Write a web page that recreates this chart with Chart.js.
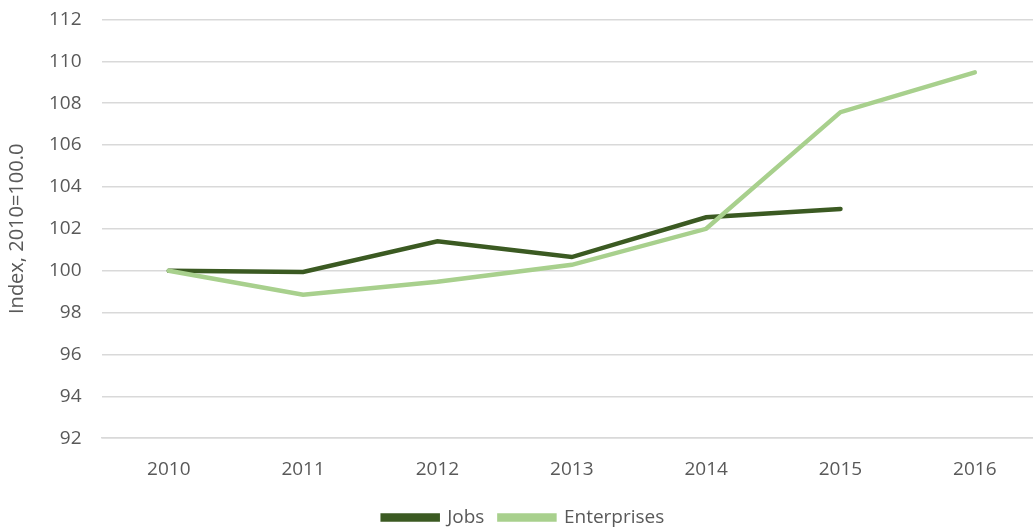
<!DOCTYPE html>
<html>
<head>
<meta charset="utf-8">
<script src="https://cdn.jsdelivr.net/npm/chart.js@4"></script>
<style>
    body { margin: 0; background: #fff; }
    #wrap { width: 1033px; height: 530px; position: relative; overflow: hidden; }
    #inner { position: absolute; left: 0; top: -12px; width: 1042px; height: 542px; }
</style>
</head>
<body>
<div id="wrap"><div id="inner"><canvas id="myChart"></canvas></div></div>
<script>
const anos = ['2010', '2011', '2012', '2013', '2014', '2015', '2016'];
const jobs = [100.0, 99.94, 101.4, 100.65, 102.55, 102.95, null];
const enterprises = [100.0, 98.85, 99.47, 100.28, 102.0, 107.57, 109.47];

const corJobs = '#3b5a22';
const corEnterprises = '#a8d08d';
const corTexto = '#595959';
const fonte = "'Open Sans', 'Liberation Sans', sans-serif";

const canvasChart = document.getElementById('myChart');

new Chart(canvasChart, {
    type: 'line',
    data: {
        labels: anos,
        datasets: [{
                label: 'Jobs',
                data: jobs,
                borderColor: corJobs,
                backgroundColor: corJobs,
                borderWidth: 4.5,
                pointRadius: 0,
                order: 1
            },
            {
                label: 'Enterprises',
                data: enterprises,
                borderColor: corEnterprises,
                backgroundColor: corEnterprises,
                borderWidth: 4.5,
                pointRadius: 0,
                order: 0
            }
        ]
    },
    options: {
        responsive: true,
        maintainAspectRatio: false,
        animation: false,
        layout: {
            padding: { top: 0, right: 0, bottom: -7, left: 5 }
        },
        elements: {
            line: { borderCapStyle: 'round', borderJoinStyle: 'miter', tension: 0 }
        },
        plugins: {
            legend: {
                position: 'bottom',
                labels: {
                    color: corTexto,
                    font: { family: fonte, size: 19 },
                    boxWidth: 55,
                    boxHeight: 4,
                    padding: 15,
                    sort: (a, b) => a.datasetIndex - b.datasetIndex
                }
            },
            tooltip: { enabled: false }
        },
        scales: {
            x: {
                offset: true,
                grid: { display: false },
                border: { display: true, color: '#d9d9d9', width: 1.5 },
                ticks: {
                    color: corTexto,
                    font: { family: fonte, size: 19 },
                    padding: 12
                }
            },
            y: {
                min: 92,
                max: 112,
                ticks: {
                    stepSize: 2,
                    color: corTexto,
                    font: { family: fonte, size: 19 },
                    padding: 20
                },
                grid: { color: '#d9d9d9', lineWidth: 1.5, drawTicks: false },
                border: { display: false },
                title: {
                    display: true,
                    text: 'Index, 2010=100.0',
                    color: corTexto,
                    font: { family: fonte, size: 20 },
                    padding: 0
                }
            }
        }
    }
});
</script>
</body>
</html>
